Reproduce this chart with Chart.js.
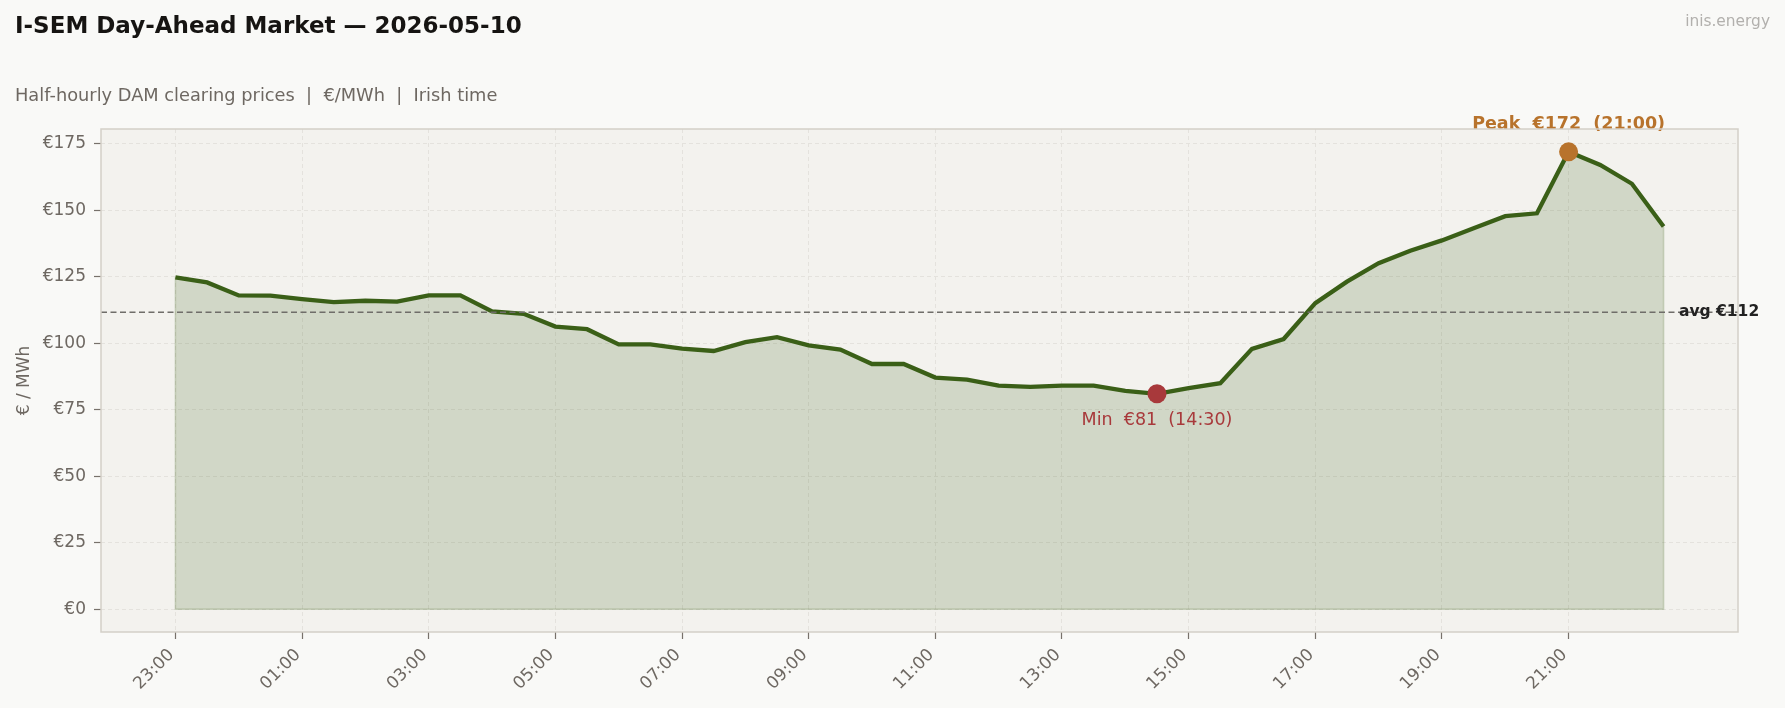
<!DOCTYPE html>
<html>
<head>
<meta charset="utf-8">
<script src="https://cdn.jsdelivr.net/npm/chart.js@4.4.1/dist/chart.umd.min.js"></script>
<style>
  html, body { margin: 0; padding: 0; background: #f9f9f7; }
  #wrap { width: 1785px; height: 708px; position: relative; }
</style>
</head>
<body>
<div id="wrap"><canvas id="dam"></canvas></div>
<script>
// half-hourly slots, trading day starts 23:00 the evening before
const times = [
  '23:00','23:30','00:00','00:30','01:00','01:30','02:00','02:30',
  '03:00','03:30','04:00','04:30','05:00','05:30','06:00','06:30',
  '07:00','07:30','08:00','08:30','09:00','09:30','10:00','10:30',
  '11:00','11:30','12:00','12:30','13:00','13:30','14:00','14:30',
  '15:00','15:30','16:00','16:30','17:00','17:30','18:00','18:30',
  '19:00','19:30','20:00','20:30','21:00','21:30','22:00','22:30'
];
const prices = [
  124.8, 122.9, 118.0, 117.9, 116.6, 115.5, 116.0, 115.7,
  118.0, 118.0, 112.0, 111.1, 106.3, 105.3,  99.6,  99.6,
   98.0,  97.1, 100.4, 102.3,  99.2,  97.6,  92.2,  92.2,
   87.1,  86.3,  84.1,  83.6,  84.1,  84.1,  82.1,  81.0,
   83.1,  85.0,  97.9, 101.6, 115.1, 123.2, 130.1, 134.8,
  138.7, 143.3, 147.8, 148.9, 172.0, 167.1, 160.0, 143.9
];
const tickIdx = [0, 4, 8, 12, 16, 20, 24, 28, 32, 36, 40, 44];
const yTicks = [0, 25, 50, 75, 100, 125, 150, 175];

const LINE = '#3a5f17';
const MUTED = '#6e6862';
const PEAK_C = '#b8732c';
const MIN_C = '#a8393b';

const avg = prices.reduce((s, v) => s + v, 0) / prices.length;
const peakI = prices.indexOf(Math.max(...prices));
const minI = prices.indexOf(Math.min(...prices));

const decor = {
  id: 'decor',
  beforeDraw(chart) {
    const { ctx, chartArea: a } = chart;
    ctx.save();
    ctx.fillStyle = '#f3f2ee';
    ctx.fillRect(a.left, a.top, a.right - a.left, a.bottom - a.top);
    ctx.restore();
  },
  beforeDatasetsDraw(chart) {
    // faint outline of the filled area
    const { ctx, scales: { x, y } } = chart;
    const last = prices.length - 1;
    ctx.save();
    ctx.strokeStyle = 'rgba(58,95,23,0.22)';
    ctx.lineWidth = 1.5;
    ctx.beginPath();
    ctx.moveTo(x.getPixelForValue(0), y.getPixelForValue(prices[0]));
    ctx.lineTo(x.getPixelForValue(0), y.getPixelForValue(0));
    ctx.lineTo(x.getPixelForValue(last), y.getPixelForValue(0));
    ctx.lineTo(x.getPixelForValue(last), y.getPixelForValue(prices[last]));
    ctx.stroke();
    ctx.restore();
  },
  afterDatasetsDraw(chart) {
    const { ctx, chartArea: a, scales: { x, y } } = chart;
    const ay = y.getPixelForValue(avg);
    ctx.save();
    ctx.strokeStyle = '#6f6d69';
    ctx.lineWidth = 1.6;
    ctx.setLineDash([6, 3.5]);
    ctx.beginPath();
    ctx.moveTo(a.left, ay);
    ctx.lineTo(a.right, ay);
    ctx.stroke();
    ctx.setLineDash([]);

    ctx.textBaseline = 'middle';
    ctx.font = 'bold 15.5px "DejaVu Sans"';
    ctx.fillStyle = '#222';
    ctx.textAlign = 'left';
    ctx.fillText('avg €' + Math.round(avg), 1679, ay);

    ctx.textAlign = 'center';
    ctx.font = 'bold 17.5px "DejaVu Sans"';
    ctx.fillStyle = PEAK_C;
    ctx.fillText('Peak  €' + Math.round(prices[peakI]) + '  (' + times[peakI] + ')',
      x.getPixelForValue(peakI), y.getPixelForValue(prices[peakI]) - 27);

    ctx.font = '17.5px "DejaVu Sans"';
    ctx.fillStyle = MIN_C;
    ctx.fillText('Min  €' + Math.round(prices[minI]) + '  (' + times[minI] + ')',
      x.getPixelForValue(minI), y.getPixelForValue(prices[minI]) + 27);
    ctx.restore();
  },
  afterDraw(chart) {
    const { ctx, chartArea: a } = chart;
    ctx.save();
    ctx.strokeStyle = '#d3cfc8';
    ctx.lineWidth = 1.5;
    ctx.strokeRect(a.left, a.top, a.right - a.left, a.bottom - a.top);

    ctx.textBaseline = 'middle';
    ctx.textAlign = 'left';
    ctx.fillStyle = '#161412';
    ctx.font = 'bold 23px "DejaVu Sans"';
    ctx.fillText('I-SEM Day-Ahead Market — 2026-05-10', 15, 27);
    ctx.fillStyle = MUTED;
    ctx.font = '17.8px "DejaVu Sans"';
    ctx.fillText('Half-hourly DAM clearing prices  |  €/MWh  |  Irish time', 15, 96);

    ctx.textAlign = 'right';
    ctx.fillStyle = '#b2b0ad';
    ctx.font = '15.4px "DejaVu Sans"';
    ctx.fillText('inis.energy', 1770, 22);

    ctx.translate(25, (a.top + a.bottom) / 2);
    ctx.rotate(-Math.PI / 2);
    ctx.textAlign = 'center';
    ctx.fillStyle = MUTED;
    ctx.font = '17px "DejaVu Sans"';
    ctx.fillText('€ / MWh', 0, 0);
    ctx.restore();
  }
};

new Chart(document.getElementById('dam'), {
  type: 'line',
  data: {
    datasets: [{
      data: prices.map((v, i) => ({ x: i, y: v })),
      borderColor: LINE,
      borderWidth: 4.3,
      backgroundColor: 'rgba(58,95,23,0.18)',
      fill: 'origin',
      tension: 0,
      pointRadius: ctx => (ctx.dataIndex === peakI || ctx.dataIndex === minI) ? 9.5 : 0,
      pointBackgroundColor: ctx => ctx.dataIndex === peakI ? PEAK_C : MIN_C,
      pointBorderWidth: 0,
      pointHoverRadius: 0
    }]
  },
  options: {
    responsive: true,
    maintainAspectRatio: false,
    animation: false,
    devicePixelRatio: 1,
    layout: { padding: { top: 129, right: 47, left: 0, bottom: 0 } },
    plugins: { legend: { display: false }, tooltip: { enabled: false } },
    scales: {
      x: {
        type: 'linear',
        min: -2.35,
        max: 49.35,
        afterBuildTicks: s => { s.ticks = tickIdx.map(v => ({ value: v })); },
        afterFit: s => { s.height = 76; },
        ticks: {
          callback: v => times[v],
          autoSkip: false,
          minRotation: 45,
          maxRotation: 45,
          color: MUTED,
          font: { family: 'DejaVu Sans', size: 17 },
          padding: 6,
          labelOffset: -4
        },
        grid: { color: '#e4e2dd', lineWidth: 1, tickLength: 7, tickColor: '#77716b', tickWidth: 1.2, tickBorderDash: [] },
        border: { display: false, dash: [4, 3] }
      },
      y: {
        min: -8.6,
        max: 180.6,
        afterBuildTicks: s => { s.ticks = yTicks.map(v => ({ value: v })); },
        afterFit: s => { s.width = 101; },
        ticks: {
          callback: v => '€' + v,
          color: MUTED,
          font: { family: 'DejaVu Sans', size: 17 },
          padding: 8
        },
        grid: { color: '#e4e2dd', lineWidth: 1, tickLength: 7, tickColor: '#77716b', tickWidth: 1.2, tickBorderDash: [] },
        border: { display: false, dash: [4, 3] }
      }
    }
  },
  plugins: [decor]
});
</script>
</body>
</html>
